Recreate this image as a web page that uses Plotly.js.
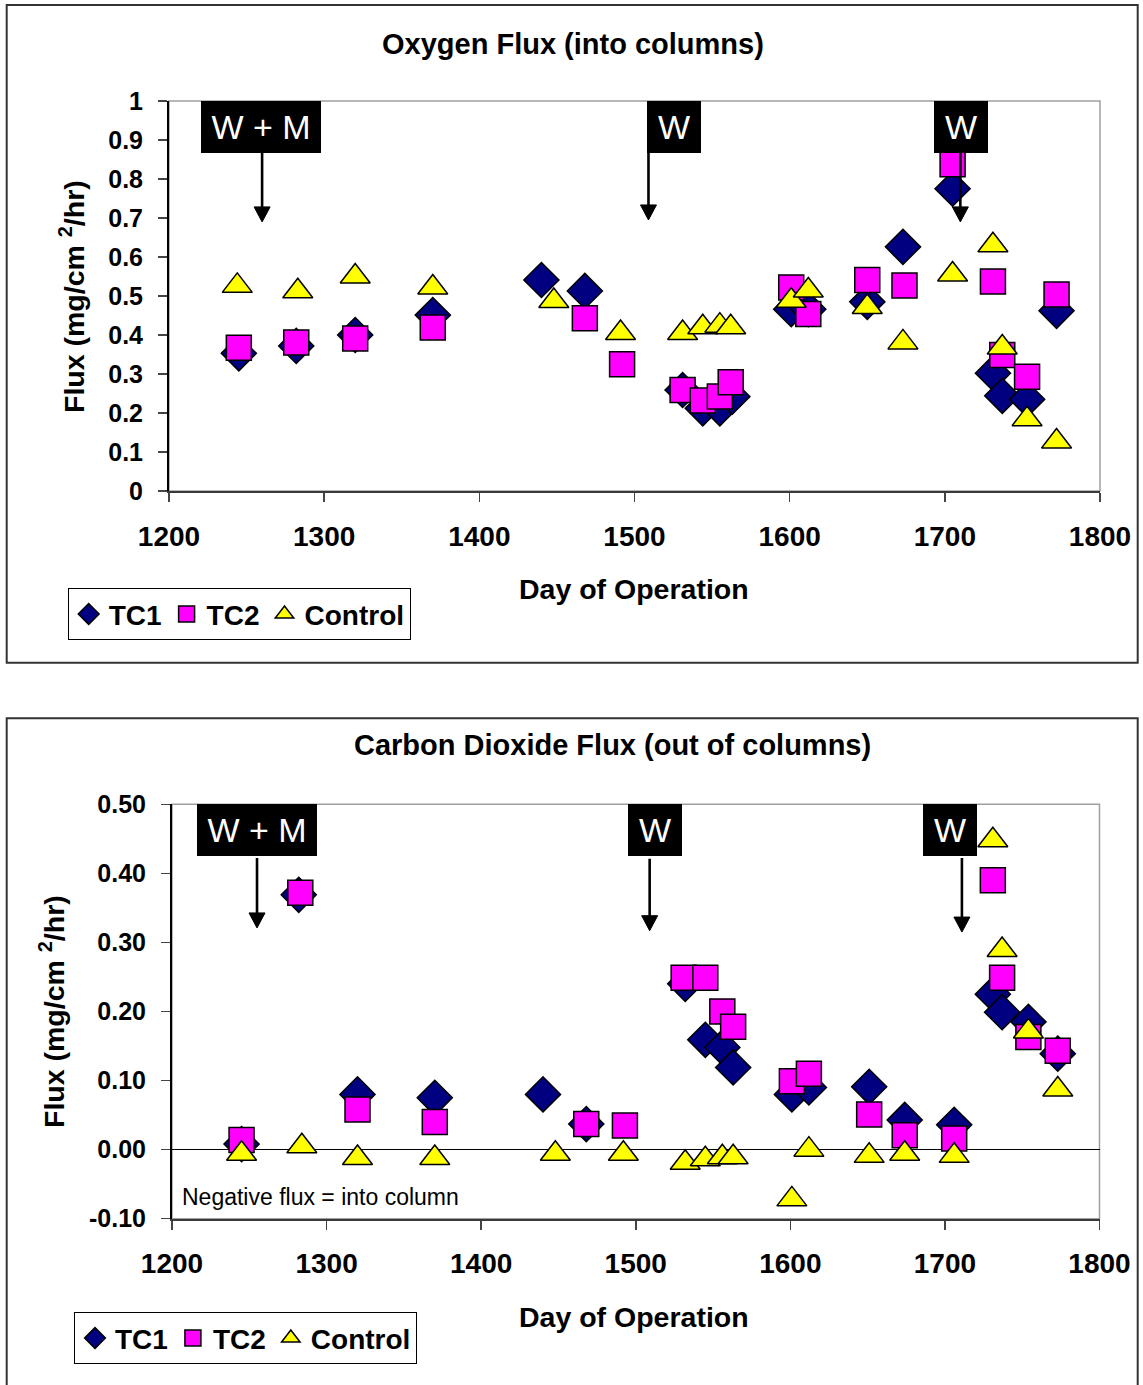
<!DOCTYPE html>
<html>
<head>
<meta charset="utf-8">
<script src="https://cdn.plot.ly/plotly-3.0.1.min.js"></script>
<style>
  html, body { margin: 0; padding: 0; background: #fff; }
  #chart { width: 1143px; height: 1385px; }
</style>
</head>
<body>
<div id="chart"></div>
<script>
// ---- Oxygen flux (into columns), mg/cm2/hr ----
const o2DaysTC1 = [1245, 1282, 1320, 1370, 1440, 1468, 1531, 1544, 1555, 1563, 1601, 1612, 1650, 1673, 1705, 1731, 1737, 1753, 1772];
const o2TC1     = [0.353, 0.372, 0.400, 0.451, 0.541, 0.513, 0.259, 0.212, 0.212, 0.242, 0.466, 0.466, 0.485, 0.626, 0.775, 0.302, 0.244, 0.235, 0.462];

const o2DaysTC2 = [1245, 1282, 1320, 1370, 1468, 1492, 1531, 1544, 1555, 1562, 1601, 1612, 1650, 1674, 1705, 1731, 1737, 1753, 1772];
const o2TC2     = [0.367, 0.381, 0.391, 0.419, 0.443, 0.325, 0.259, 0.232, 0.242, 0.279, 0.522, 0.454, 0.541, 0.527, 0.838, 0.537, 0.349, 0.293, 0.504];

const o2DaysCtl = [1244, 1283, 1320, 1370, 1448, 1491, 1531, 1544, 1555, 1562, 1601, 1612, 1650, 1673, 1705, 1731, 1737, 1753, 1772];
const o2Ctl     = [0.526, 0.512, 0.550, 0.522, 0.487, 0.405, 0.405, 0.420, 0.424, 0.420, 0.488, 0.514, 0.472, 0.381, 0.555, 0.630, 0.368, 0.184, 0.127];

// ---- Carbon dioxide flux (out of columns), mg/cm2/hr ----
const co2DaysTC1 = [1245, 1282, 1320, 1370, 1440, 1468, 1532, 1545, 1556, 1563, 1601, 1612, 1651, 1674, 1706, 1731, 1737, 1754, 1773];
const co2TC1     = [0.008, 0.369, 0.080, 0.075, 0.080, 0.037, 0.240, 0.159, 0.148, 0.119, 0.080, 0.090, 0.091, 0.043, 0.036, 0.225, 0.199, 0.185, 0.139];

const co2DaysTC2 = [1245, 1283, 1320, 1370, 1468, 1493, 1531, 1545, 1556, 1563, 1601, 1612, 1651, 1674, 1706, 1731, 1737, 1754, 1773];
const co2TC2     = [0.014, 0.372, 0.058, 0.040, 0.037, 0.035, 0.249, 0.249, 0.200, 0.178, 0.099, 0.110, 0.051, 0.021, 0.016, 0.390, 0.249, 0.163, 0.143];

const co2DaysCtl = [1245, 1284, 1320, 1370, 1448, 1492, 1532, 1545, 1556, 1563, 1601, 1612, 1651, 1674, 1706, 1731, 1737, 1754, 1773];
const co2Ctl     = [-0.006, 0.005, -0.012, -0.012, -0.006, -0.006, -0.019, -0.014, -0.011, -0.011, -0.072, 0.000, -0.009, -0.006, -0.009, 0.448, 0.289, 0.171, 0.087];

// ---- Tick labels ----
const dayTicks      = [1200, 1300, 1400, 1500, 1600, 1700, 1800];
const dayTickText   = ['1200', '1300', '1400', '1500', '1600', '1700', '1800'];
const o2Ticks       = [0, 0.1, 0.2, 0.3, 0.4, 0.5, 0.6, 0.7, 0.8, 0.9, 1];
const o2TickText    = ['0', '0.1', '0.2', '0.3', '0.4', '0.5', '0.6', '0.7', '0.8', '0.9', '1'];
const co2Ticks      = [-0.1, 0, 0.1, 0.2, 0.3, 0.4, 0.5];
const co2TickText   = ['-0.10', '0.00', '0.10', '0.20', '0.30', '0.40', '0.50'];

// ---- Event labels ----
const eventLabels = ['W + M', 'W', 'W'];

const W = 1143, H = 1385;
const FONT = '"Liberation Sans", Arial, Helvetica, sans-serif';
const px = v => v / W;          // horizontal pixel -> paper
const py = v => 1 - v / H;      // vertical pixel -> paper

const series = [
  { name: 'TC1',     symbol: 'diamond',     size: 27, color: '#000080' },
  { name: 'TC2',     symbol: 'square',      size: 25, color: '#FF00FF' },
  { name: 'Control', symbol: 'triangle-up', size: 26, color: '#FFFF00' }
];

function mk(s, xs, ys, xa, ya, leg) {
  return {
    type: 'scatter', mode: 'markers', name: s.name,
    x: xs, y: ys, xaxis: xa, yaxis: ya, legend: leg,
    cliponaxis: false, hoverinfo: 'x+y+name',
    marker: { symbol: s.symbol, size: s.size, color: s.color, line: { color: '#000', width: 1.5 } }
  };
}

const data = [
  mk(series[0], o2DaysTC1, o2TC1, 'x', 'y', 'legend'),
  mk(series[1], o2DaysTC2, o2TC2, 'x', 'y', 'legend'),
  mk(series[2], o2DaysCtl, o2Ctl, 'x', 'y', 'legend'),
  mk(series[0], co2DaysTC1, co2TC1, 'x2', 'y2', 'legend2'),
  mk(series[1], co2DaysTC2, co2TC2, 'x2', 'y2', 'legend2'),
  mk(series[2], co2DaysCtl, co2Ctl, 'x2', 'y2', 'legend2')
];

function xAxis(domain, anchor) {
  return {
    domain: domain, anchor: anchor, range: [1200, 1800],
    tickmode: 'array', tickvals: dayTicks, ticktext: dayTickText,
    ticks: 'outside', ticklen: 9, tickwidth: 1.5, tickcolor: '#444',
    ticklabelstandoff: 10,
    tickfont: { family: FONT, size: 28, color: '#000', weight: 'bold' },
    showline: true, linecolor: '#3a3a3a', linewidth: 2,
    showgrid: false, zeroline: false, fixedrange: true
  };
}
function yAxis(domain, anchor, range, tv, tt, zero) {
  return {
    domain: domain, anchor: anchor, range: range,
    tickmode: 'array', tickvals: tv, ticktext: tt,
    ticks: 'outside', ticklen: 9, tickwidth: 1.5, tickcolor: '#444',
    ticklabelstandoff: 10,
    tickfont: { family: FONT, size: 25, color: '#000', weight: 'bold' },
    showline: true, linecolor: '#000', linewidth: 2,
    showgrid: false, zeroline: zero, zerolinecolor: '#000', zerolinewidth: 1.5,
    fixedrange: true
  };
}

const titleFont = { family: FONT, size: 29, color: '#000', weight: 'bold' };
const axisFont  = { family: FONT, size: 28.5, color: '#000', weight: 'bold' };
const yTitleFont = { family: FONT, size: 28.5, color: '#000', weight: 'bold' };
const boxFont   = { family: FONT, size: 34, color: '#fff' };

function textAnn(text, x, y, font, extra) {
  return Object.assign({ xref: 'paper', yref: 'paper', x: x, y: y, text: text,
    showarrow: false, font: font, xanchor: 'center', yanchor: 'middle' }, extra || {});
}
function boxAnn(text, xa, ya, xc, yTop, width) {
  return { xref: xa, yref: ya, x: xc, y: yTop, text: text, showarrow: false,
    xanchor: 'center', yanchor: 'top', bgcolor: '#000', borderpad: 0, borderwidth: 0,
    width: width, height: 52, align: 'center', valign: 'middle', font: boxFont };
}

const annotations = [
  // chart titles
  textAnn('Oxygen Flux (into columns)', px(573), py(44), titleFont),
  textAnn('Carbon Dioxide Flux (out of columns)', px(612), py(745), titleFont),
  // axis titles
  textAnn('Day of Operation', px(634), py(589), axisFont),
  textAnn('Day of Operation', px(634), py(1317), axisFont),
  textAnn('Flux (mg/cm <sup>2</sup>/hr)', px(72), py(297), yTitleFont, { textangle: -90 }),
  textAnn('Flux (mg/cm <sup>2</sup>/hr)', px(52), py(1012), yTitleFont, { textangle: -90 }),
  // note
  textAnn('Negative flux = into column', px(180), py(1197), { family: FONT, size: 23, color: '#000' }, { xanchor: 'left' }),
  // event labels, oxygen chart
  boxAnn(eventLabels[0], 'x', 'y', 1259.3, 1.0, 120),
  boxAnn(eventLabels[1], 'x', 'y', 1525.4, 1.0, 54),
  boxAnn(eventLabels[2], 'x', 'y', 1710.3, 1.0, 54),
  // event labels, carbon dioxide chart
  boxAnn(eventLabels[0], 'x2', 'y2', 1255, 0.50, 120),
  boxAnn(eventLabels[1], 'x2', 'y2', 1512.5, 0.50, 54),
  boxAnn(eventLabels[2], 'x2', 'y2', 1703.3, 0.50, 54)
];

// downward arrow under an event label: a shaft and a filled head, sized in pixels
function arrowShapes(xa, ya, x, y, len) {
  return [
    { type: 'line', xref: xa, yref: ya, xsizemode: 'pixel', ysizemode: 'pixel',
      xanchor: x, yanchor: y, x0: 0, x1: 0, y0: 12, y1: len,
      line: { color: '#000', width: 2.6 }, layer: 'above' },
    { type: 'path', xref: xa, yref: ya, xsizemode: 'pixel', ysizemode: 'pixel',
      xanchor: x, yanchor: y, path: 'M -8 15 L 8 15 L 0 0 Z',
      fillcolor: '#000', line: { color: '#000', width: 1 }, layer: 'above' }
  ];
}

const shapes = [
  // outer chart frames
  { type: 'rect', xref: 'paper', yref: 'paper', x0: px(6.7), x1: px(1137.7), y0: py(662.7), y1: py(5),
    line: { color: '#333', width: 2 }, fillcolor: 'rgba(0,0,0,0)', layer: 'below' },
  { type: 'rect', xref: 'paper', yref: 'paper', x0: px(6.7), x1: px(1137.7), y0: -0.02, y1: py(718.3),
    line: { color: '#333', width: 2 }, fillcolor: 'rgba(0,0,0,0)', layer: 'below' },
  // plot-area borders
  { type: 'rect', xref: 'x domain', yref: 'y domain', x0: 0, x1: 1, y0: 0, y1: 1,
    line: { color: '#a0a0a0', width: 1.5 }, layer: 'below' },
  { type: 'rect', xref: 'x2 domain', yref: 'y2 domain', x0: 0, x1: 1, y0: 0, y1: 1,
    line: { color: '#a0a0a0', width: 1.5 }, layer: 'below' }
].concat(
  arrowShapes('x', 'y', 1260, 0.690, 70),
  arrowShapes('x', 'y', 1509, 0.695, 68),
  arrowShapes('x', 'y', 1710, 0.690, 70),
  arrowShapes('x2', 'y2', 1255, 0.321, 70),
  arrowShapes('x2', 'y2', 1509, 0.317, 72),
  arrowShapes('x2', 'y2', 1711, 0.315, 74)
);

const legendBase = {
  orientation: 'h', xanchor: 'left', yanchor: 'top',
  bgcolor: '#fff', bordercolor: '#000', borderwidth: 1,
  font: { family: FONT, size: 28, color: '#000', weight: 'bold' },
  itemsizing: 'trace', traceorder: 'normal'
};

const layout = {
  width: W, height: H,
  margin: { l: 0, r: 0, t: 0, b: 0, pad: 0 },
  paper_bgcolor: '#fff', plot_bgcolor: '#fff',
  showlegend: true,
  xaxis:  xAxis([px(169), px(1100)], 'y'),
  yaxis:  yAxis([py(491), py(101)], 'x', [0, 1], o2Ticks, o2TickText, false),
  xaxis2: xAxis([px(172), px(1099.5)], 'y2'),
  yaxis2: yAxis([py(1218.7), py(804.3)], 'x2', [-0.1, 0.5], co2Ticks, co2TickText, true),
  legend:  Object.assign({}, legendBase, { x: px(67.7), y: py(588.3) }),
  legend2: Object.assign({}, legendBase, { x: px(74), y: py(1312.3) }),
  annotations: annotations,
  shapes: shapes
};

Plotly.newPlot('chart', data, layout, { displayModeBar: false, staticPlot: true });
</script>
</body>
</html>
